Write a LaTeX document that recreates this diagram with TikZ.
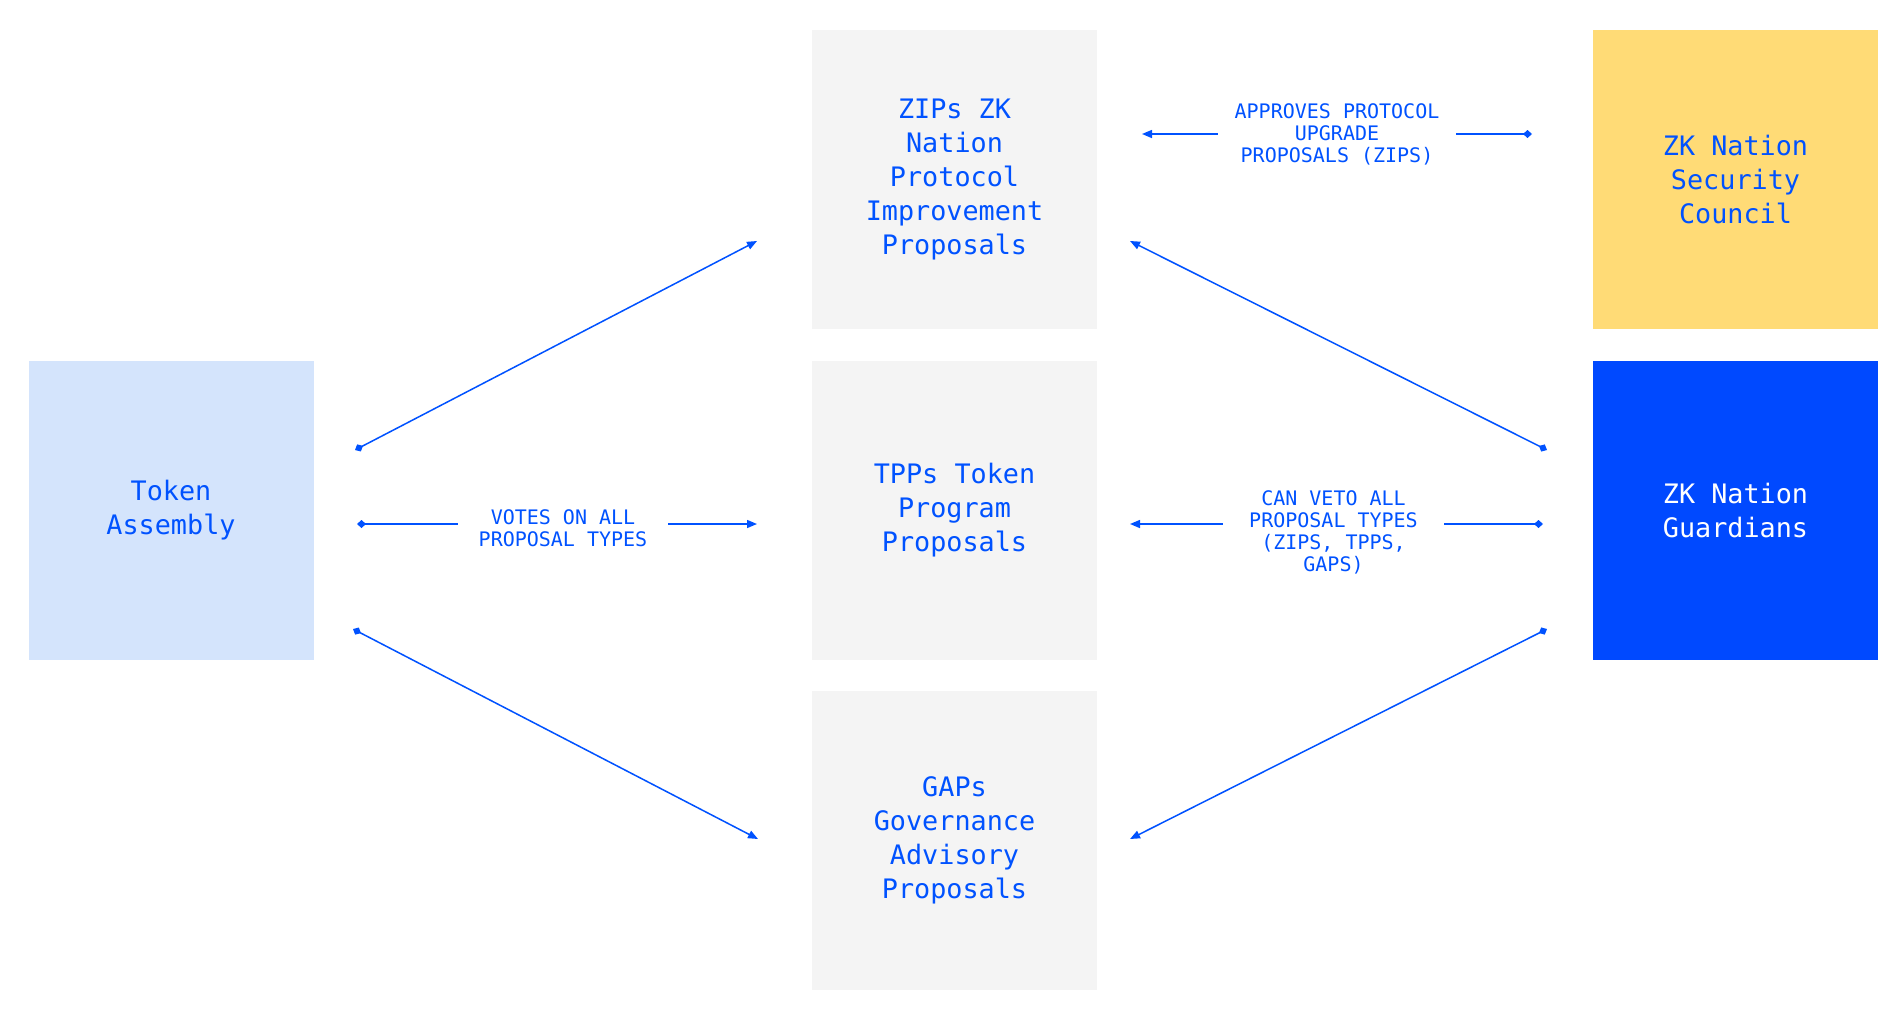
\documentclass[tikz,border=0pt]{standalone}
\usepackage{fontspec}
\newfontfamily\zkmono{DejaVu Sans Mono}
\usetikzlibrary{arrows.meta}
\definecolor{zkblue}{HTML}{0052FF}
\definecolor{zkdeep}{HTML}{0049FF}
\definecolor{zklight}{HTML}{D4E4FC}
\definecolor{zkgrey}{HTML}{F4F4F4}
\definecolor{zkyellow}{HTML}{FFDB76}
\tikzset{
  box/.style={minimum width=285pt, minimum height=299pt, inner sep=0pt, align=center,
    text=zkblue, font=\zkmono\fontsize{26.8}{34}\selectfont},
  lbl/.style={fill=white, align=center, text=zkblue, inner ysep=2pt,
    font=\zkmono\fontsize{20}{22}\selectfont},
  conn/.style={draw=zkblue, line width=1.5pt,
    {Diamond[length=9pt,width=8pt]}-{Triangle[length=10pt,width=8pt]}}
}
\begin{document}
\begin{tikzpicture}[x=1pt,y=-1pt]
\useasboundingbox[fill=white] (0,0) rectangle (1904,1021);
% boxes
\node[box, fill=zklight] (token) at (171,510) {Token\\Assembly};
\node[box, fill=zkgrey] (zips) at (954.5,179.5) {ZIPs ZK\\Nation\\Protocol\\Improvement\\Proposals};
\node[box, fill=zkgrey] (tpps) at (954.5,510) {TPPs Token\\Program\\Proposals};
\node[box, fill=zkgrey] (gaps) at (954.5,840.5) {GAPs\\Governance\\Advisory\\Proposals};
\node[box, fill=zkyellow] (council) at (1735.5,179.5) {ZK Nation\\Security\\Council};
\node[box, fill=zkdeep, text=white] (guard) at (1735.5,510) {ZK Nation\\Guardians};
% connector end points
\coordinate (tA) at (355,450);
\coordinate (tB) at (357,524);
\coordinate (tC) at (353,629);
\coordinate (zL) at (757,241);
\coordinate (pL) at (757,524);
\coordinate (gL) at (758,839);
\coordinate (zR) at (1130,241);
\coordinate (zRt) at (1142,134);
\coordinate (pR) at (1130,524);
\coordinate (gR) at (1130,839);
\coordinate (cL) at (1532,134);
\coordinate (dA) at (1547,450);
\coordinate (dB) at (1543,524);
\coordinate (dC) at (1547,629);
% connectors
\draw[conn] (tA) -- (zL);
\draw[conn] (tC) -- (gL);
\draw[conn] (tB) -- (pL) node[lbl, midway, xshift=6pt, yshift=-4pt, inner xsep=21pt] {VOTES ON ALL\\PROPOSAL TYPES};
\draw[conn] (cL) -- (zRt) node[lbl, midway, inner xsep=17pt] {APPROVES PROTOCOL\\UPGRADE\\PROPOSALS (ZIPS)};
\draw[conn] (dA) -- (zR);
\draw[conn] (dC) -- (gR);
\draw[conn] (dB) -- (pR) node[lbl, midway, xshift=-3pt, yshift=-8pt, inner xsep=26pt] {CAN VETO ALL\\PROPOSAL TYPES\\(ZIPS, TPPS,\\GAPS)};
\end{tikzpicture}
\end{document}
